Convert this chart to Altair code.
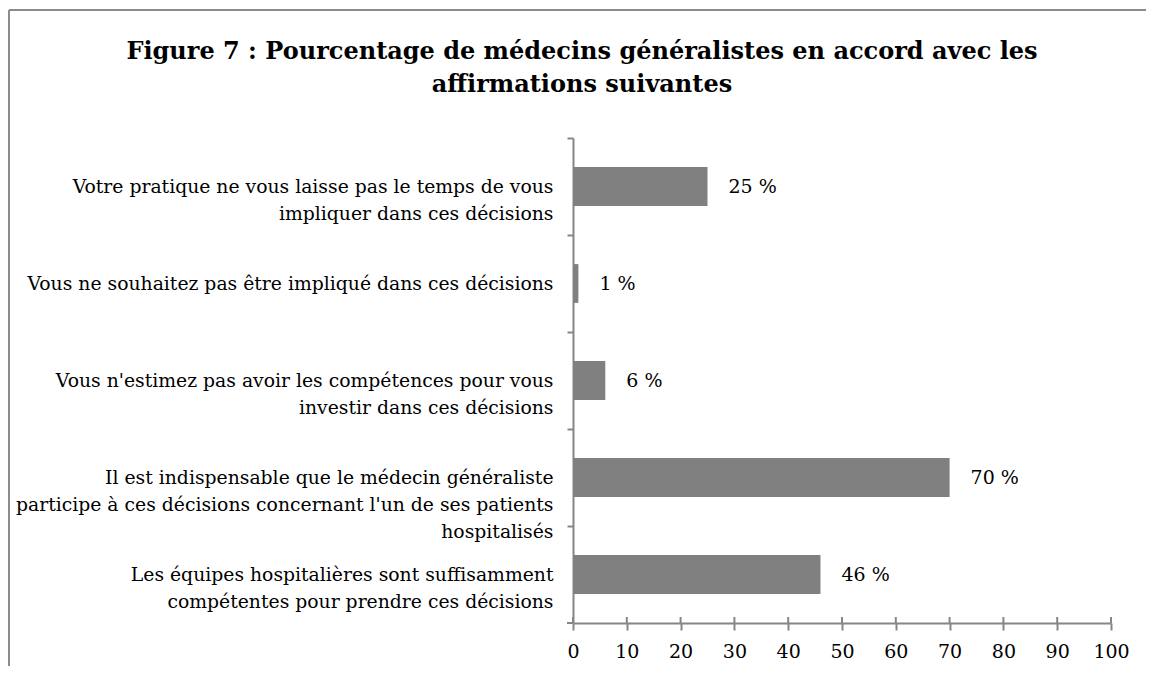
import altair as alt
import pandas as pd

categories = [
    "Votre pratique ne vous laisse pas le temps de vous|impliquer dans ces décisions",
    "Vous ne souhaitez pas être impliqué dans ces décisions",
    "Vous n'estimez pas avoir les compétences pour vous|investir dans ces décisions",
    "Il est indispensable que le médecin généraliste|participe à ces décisions concernant l'un de ses patients|hospitalisés",
    "Les équipes hospitalières sont suffisamment|compétentes pour prendre ces décisions",
]
values = [25, 1, 6, 70, 46]
x_ticks = [0, 10, 20, 30, 40, 50, 60, 70, 80, 90, 100]

FONT = "DejaVu Serif"
GRAY = "#868686"
W, H = 538, 485
STEP = H / 5

df = pd.DataFrame({"label": categories, "value": values})
ticks_df = pd.DataFrame({"t": x_ticks})

xscale = alt.Scale(domain=[0, 100], nice=False, zero=True)
yscale = alt.Scale(paddingInner=0.6, paddingOuter=0.3)

yaxis = alt.Axis(
    title=None, tickOffset=-STEP / 2, labelOffset=STEP / 2,
    labelExpr="split(datum.label, '|')",
    labelFont=FONT, labelFontSize=18.8, labelColor="#000000", labelLineHeight=27,
    labelPadding=14, labelLimit=0, tickSize=6, tickColor=GRAY, tickWidth=2,
    domainColor=GRAY, domainWidth=2,
)
xaxis = alt.Axis(
    title=None, values=x_ticks, labelFont=FONT, labelFontSize=19,
    labelColor="#000000", labelPadding=12, tickSize=7, tickColor=GRAY,
    tickWidth=2, domainColor=GRAY, domainWidth=2, grid=False,
    labelFlush=False, labelOverlap=False,
)

base = alt.Chart(df)
bars = base.mark_bar(color="#808080").encode(
    y=alt.Y("label:N", sort=categories, scale=yscale, axis=yaxis),
    x=alt.X("value:Q", scale=xscale, axis=xaxis),
)
texts = base.transform_calculate(txt="datum.value + ' %'").mark_text(
    align="left", baseline="middle", dx=21, font=FONT, fontSize=19, color="#000000"
).encode(
    y=alt.Y("label:N", sort=categories),
    x=alt.X("value:Q"),
    text="txt:N",
)
up_ticks = alt.Chart(ticks_df).mark_rule(color=GRAY, strokeWidth=2).encode(
    x=alt.X("t:Q"),
    y=alt.value(H - 6),
    y2=alt.value(H),
)
one = pd.DataFrame({"a": [0]})
bottom_ytick = alt.Chart(one).mark_rule(color=GRAY, strokeWidth=2).encode(
    x=alt.value(-6), x2=alt.value(0), y=alt.value(H)
)
border_left = alt.Chart(one).mark_rule(color="#8c8c8c", strokeWidth=2).encode(
    x=alt.value(-564), y=alt.value(-128), y2=alt.value(H + 100)
)
border_top = alt.Chart(one).mark_rule(color="#8c8c8c", strokeWidth=2).encode(
    x=alt.value(-564), x2=alt.value(W + 100), y=alt.value(-128)
)

chart = alt.layer(border_left, border_top, bars, texts, up_ticks, bottom_ytick).properties(
    width=W, height=H,
    autosize=alt.AutoSizeParams(type="none"),
    padding={"left": 565, "top": 130, "right": 35, "bottom": 43},
    title=alt.TitleParams(
        text=["Figure 7 : Pourcentage de médecins généralistes en accord avec les",
              "affirmations suivantes"],
        font=FONT, fontSize=24, fontWeight="bold", color="#000000",
        anchor="middle", dx=-260, offset=0, dy=88, lineHeight=33, baseline="top",
    ),
).configure_view(stroke=None)

chart.save("out.html", embed_options={"renderer": "svg", "actions": False})
